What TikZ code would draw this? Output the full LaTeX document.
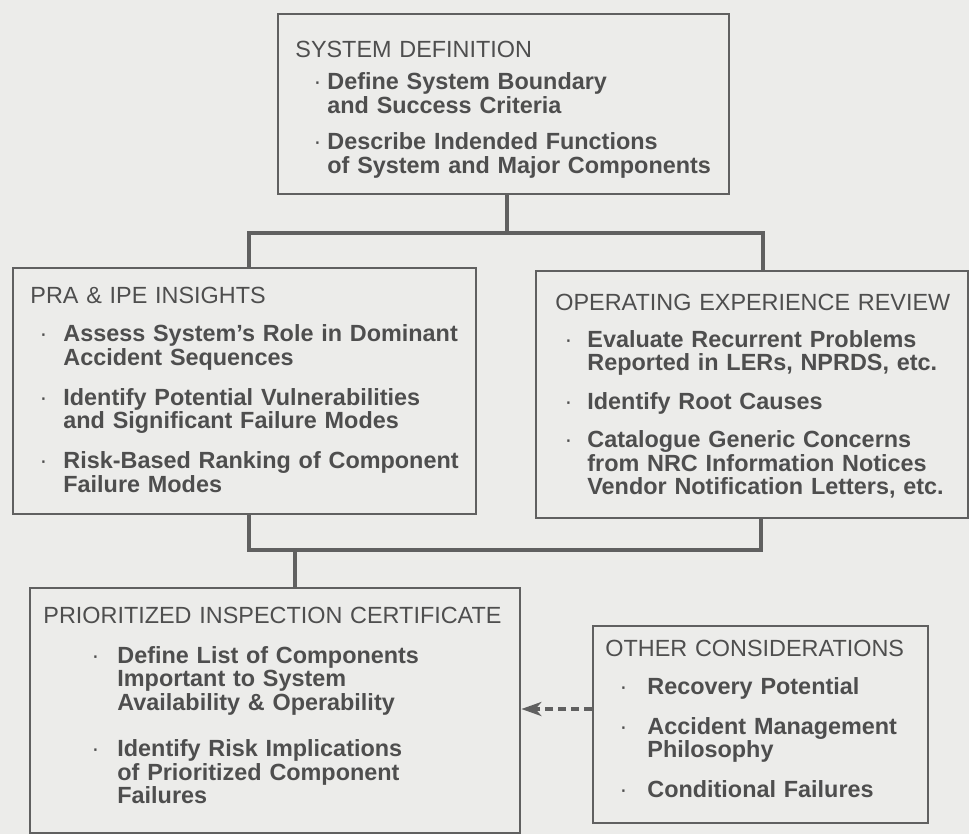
\documentclass[tikz,border=0pt]{standalone}
\usepackage{fontspec}
\setmainfont{Liberation Sans}
\usepackage{tikz}
\usetikzlibrary{arrows.meta, positioning}
\definecolor{paper}{RGB}{236, 236, 234}
\definecolor{ink}{RGB}{78, 78, 78}
\definecolor{rulegray}{RGB}{96, 96, 96}
\newlength{\bulletpos}
\newlength{\textpos}
\newlength{\headgap}
\newlength{\itemgap}
\newcommand{\head}[1]{\noindent#1\par\vspace{\dimexpr\headgap-\itemgap\relax}}
\newcommand{\entry}[1]{\vspace{\itemgap}\noindent\hspace*{\bulletpos}\makebox[0pt]{\textperiodcentered}%
  \hspace*{\dimexpr\textpos-\bulletpos\relax}\parbox[t]{200pt}{\bfseries#1}\par}

\begin{document}
\begin{tikzpicture}[
  x=0.5pt, y=-0.5pt,
  box/.style={draw=rulegray, line width=1.2pt, anchor=north west, inner sep=0pt},
  listtext/.style n args={4}{anchor=base west, inner sep=0pt, text width=240pt, text=ink,
                font=\fontsize{11.7}{11.8}\selectfont,
                execute at begin node={\setlength{\parskip}{0pt}\setlength{\bulletpos}{#1}%
                  \setlength{\textpos}{#2}\setlength{\headgap}{#3}\setlength{\itemgap}{#4}}},
  link/.style={draw=rulegray, line width=1.6pt},
  feed/.style={draw=rulegray, line width=1.8pt, dash pattern=on 4pt off 2.5pt,
               -{Stealth[length=10pt, width=7pt, inset=3pt]}}
]
  \useasboundingbox (0,0) rectangle (969,834);
  \fill[paper] (0,0) rectangle (969,834);

  \node[box, minimum width=225.5pt, minimum height=90pt] (sysdef) at (277,13) {};
  \node[box, minimum width=231.5pt, minimum height=123pt] (pra) at (12,267) {};
  \node[box, minimum width=216pt, minimum height=123.5pt] (oper) at (535,270) {};
  \node[box, minimum width=245pt, minimum height=122.5pt] (pic) at (29,587) {};
  \node[box, minimum width=167.5pt, minimum height=98.5pt] (other) at (592,625) {};

  \node[listtext={11pt}{16pt}{4.2pt}{8.5pt}] (sysdef-txt) at (295,58) {%
    \head{SYSTEM DEFINITION}
    \entry{Define System Boundary\\and Success Criteria}
    \entry{Describe Indended Functions\\of System and Major Components}};
  \node[listtext={6.5pt}{16.5pt}{7.4pt}{7.9pt}] (pra-txt) at (30,303.5) {%
    \head{PRA \& IPE INSIGHTS}
    \entry{Assess System's Role in Dominant\\Accident Sequences}
    \entry{Identify Potential Vulnerabilities\\and Significant Failure Modes}
    \entry{Risk-Based Ranking of Component\\Failure Modes}};
  \node[listtext={6.5pt}{16pt}{6.7pt}{7.4pt}] (oper-txt) at (555,310) {%
    \head{OPERATING EXPERIENCE REVIEW}
    \entry{Evaluate Recurrent Problems\\Reported in LERs, NPRDS, etc.}
    \entry{Identify Root Causes}
    \entry{Catalogue Generic Concerns\\from NRC Information Notices\\Vendor Notification Letters, etc.}};
  \node[listtext={26pt}{37pt}{8.2pt}{11.2pt}] (pic-txt) at (43,623.3) {%
    \head{PRIORITIZED INSPECTION CERTIFICATE}
    \entry{Define List of Components\\Important to System\\Availability \& Operability}
    \entry{Identify Risk Implications\\of Prioritized Component\\Failures}};
  \node[listtext={9pt}{21pt}{6.9pt}{8.2pt}] (other-txt) at (605,656.7) {%
    \head{OTHER CONSIDERATIONS}
    \entry{Recovery Potential}
    \entry{Accident Management\\Philosophy}
    \entry{Conditional Failures}};

  \coordinate (split) at (507,233);
  \coordinate (splitL) at (249,233);
  \coordinate (splitR) at (763,233);
  \coordinate (joinL) at (249,550);
  \coordinate (joinR) at (761,550);
  \coordinate (joinM) at (295,550);
  \coordinate (fb) at (592,709);

  \draw[link] (sysdef.south -| split) -- (split);
  \draw[link] (pra.north -| splitL) -- (splitL) -- (splitR) -- (oper.north -| splitR);
  \draw[link] (pra.south -| joinL) -- (joinL) -- (joinR) -- (oper.south -| joinR);
  \draw[link] (joinM) -- (pic.north -| joinM);
  \draw[feed] (other.west |- fb) -- (pic.east |- fb);
\end{tikzpicture}
\end{document}
